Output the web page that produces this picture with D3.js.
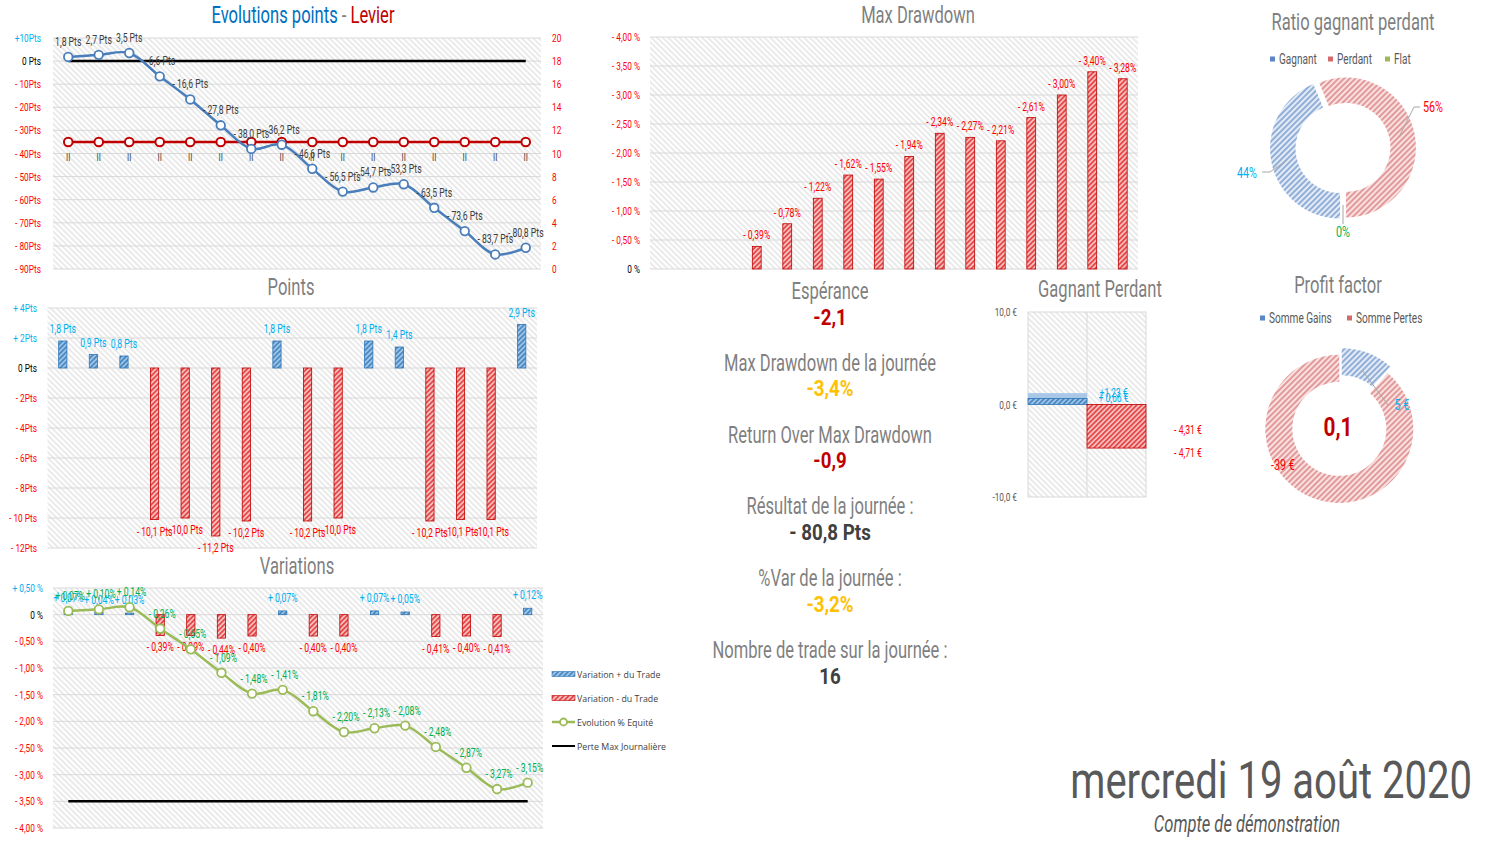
<!DOCTYPE html>
<html>
<head>
<meta charset="utf-8">
<script src="https://cdn.jsdelivr.net/npm/d3@7"></script>
<style>
  body { margin: 0; background: #fff; }
  svg { display: block; }
</style>
</head>
<body>
<script>
// ---- data ----
const trades = [1, 2, 3, 4, 5, 6, 7, 8, 9, 10, 11, 12, 13, 14, 15, 16];
const tradeTick = "II";

const cumulPts = [1.8, 2.7, 3.5, -6.6, -16.6, -27.8, -38.0, -36.2, -46.6, -56.5, -54.7, -53.3, -63.5, -73.6, -83.7, -80.8];
const zeroPts = [0, 0, 0, 0, 0, 0, 0, 0, 0, 0, 0, 0, 0, 0, 0, 0];
const levier = [11, 11, 11, 11, 11, 11, 11, 11, 11, 11, 11, 11, 11, 11, 11, 11];
const ptsTicks = [10, 0, -10, -20, -30, -40, -50, -60, -70, -80, -90];
const ptsTickLabels = ["+10Pts", "0 Pts", "- 10Pts", "- 20Pts", "- 30Pts", "- 40Pts", "- 50Pts", "- 60Pts", "- 70Pts", "- 80Pts", "- 90Pts"];
const levierTicks = [0, 2, 4, 6, 8, 10, 12, 14, 16, 18, 20];

const tradePts = [1.8, 0.9, 0.8, -10.1, -10.0, -11.2, -10.2, 1.8, -10.2, -10.0, 1.8, 1.4, -10.2, -10.1, -10.1, 2.9];
const pointsTicks = [4, 2, 0, -2, -4, -6, -8, -10, -12];
const pointsTickLabels = ["+ 4Pts", "+ 2Pts", "0 Pts", "- 2Pts", "- 4Pts", "- 6Pts", "- 8Pts", "- 10 Pts", "- 12Pts"];

const tradeVar = [0.07, 0.04, 0.03, -0.39, -0.39, -0.44, -0.40, 0.07, -0.40, -0.40, 0.07, 0.05, -0.41, -0.40, -0.41, 0.12];
const equityVar = [0.07, 0.10, 0.14, -0.26, -0.65, -1.09, -1.48, -1.41, -1.81, -2.20, -2.13, -2.08, -2.48, -2.87, -3.27, -3.15];
const perteMax = [-3.5, -3.5, -3.5, -3.5, -3.5, -3.5, -3.5, -3.5, -3.5, -3.5, -3.5, -3.5, -3.5, -3.5, -3.5, -3.5];
const varTicks = [0.5, 0, -0.5, -1, -1.5, -2, -2.5, -3, -3.5, -4];
const varTickLabels = ["+ 0,50 %", "0 %", "- 0,50 %", "- 1,00 %", "- 1,50 %", "- 2,00 %", "- 2,50 %", "- 3,00 %", "- 3,50 %", "- 4,00 %"];
const varLegend = ["Variation + du Trade", "Variation - du Trade", "Evolution % Equité", "Perte Max Journalière"];

const maxDrawdown = [0, 0, 0, -0.39, -0.78, -1.22, -1.62, -1.55, -1.94, -2.34, -2.27, -2.21, -2.61, -3.00, -3.40, -3.28];
const ddTicks = [-4, -3.5, -3, -2.5, -2, -1.5, -1, -0.5, 0];
const ddTickLabels = ["- 4,00 %", "- 3,50 %", "- 3,00 %", "- 2,50 %", "- 2,00 %", "- 1,50 %", "- 1,00 %", "- 0,50 %", "0 %"];

const ratioNames = ["Gagnant", "Perdant", "Flat"];
const ratioCounts = [7, 9, 0];

const gpCategories = ["Gagnant", "Perdant"];
const gpMoyenne = [1.23, -4.31];
const gpMediane = [0.66, -4.71];
const gpTicks = [10, 0, -10];
const gpTickLabels = ["10,0 €", "0,0 €", "-10,0 €"];

const pfNames = ["Somme Gains", "Somme Pertes"];
const pfValues = [5, -39];
const profitFactor = "0,1";

const statNames = ["Espérance", "Max Drawdown de la journée", "Return Over Max Drawdown", "Résultat de la journée :", "%Var de la journée :", "Nombre de trade sur la journée :"];
const statValues = ["-2,1", "-3,4%", "-0,9", "- 80,8 Pts", "-3,2%", "16"];
const statColors = ["#C00000", "#FFC000", "#C00000", "#404040", "#FFC000", "#404040"];

const dateText = "mercredi 19 août 2020";
const compteText = "Compte de démonstration";

// ---- helpers ----
const FONT = "Roboto, 'Liberation Sans', sans-serif";
const CYAN = "#00B0F0", RED = "#FF0000", DARKRED = "#C00000", GREY = "#7F7F7F", GREEN = "#00B050";

const svg = d3.select("body").append("svg").attr("width", 1495).attr("height", 853);
svg.append("rect").attr("width", 1495).attr("height", 853).attr("fill", "#fff");
const defs = svg.append("defs");

function hatch(id, bg, fg, angle, gap, sw) {
  const p = defs.append("pattern").attr("id", id)
    .attr("patternUnits", "userSpaceOnUse")
    .attr("width", gap).attr("height", gap)
    .attr("patternTransform", "rotate(" + angle + ")");
  p.append("rect").attr("width", gap).attr("height", gap).attr("fill", bg);
  p.append("line").attr("x1", gap / 2).attr("y1", 0).attr("x2", gap / 2).attr("y2", gap)
    .attr("stroke", fg).attr("stroke-width", sw);
}
hatch("bgHatch", "#ffffff", "#D6D6D6", -45, 4, 1);
hatch("blueBar", "#9DC3E6", "#2E75B6", 45, 3.5, 1.3);
hatch("redBar", "#F6BDBD", "#E02020", 45, 3.5, 1.3);
hatch("blueDonut", "#E3EBF6", "#5B86C4", 45, 4, 1.2);
hatch("redDonut", "#F9E1E1", "#D46A6A", 45, 4, 1.2);
hatch("greenDonut", "#E6EFD6", "#9BBB59", 45, 4, 1.2);

function txt(g, x, y, s, o) {
  o = o || {};
  const t = g.append("text")
    .attr("transform", "translate(" + x + "," + y + ") scale(" + (o.k || 0.72) + ",1)")
    .attr("text-anchor", o.anchor || "middle")
    .attr("dominant-baseline", o.baseline || "central")
    .attr("font-family", o.family || FONT)
    .attr("font-size", o.size || 12)
    .attr("fill", o.color || "#404040")
    .text(s);
  if (o.weight) t.attr("font-weight", o.weight);
  if (o.style) t.attr("font-style", o.style);
  return t;
}
function tickColor(v) { return v > 0 ? CYAN : (v < 0 ? RED : "#000"); }
const fr = (v, d) => d3.format("." + d + "f")(Math.abs(v)).replace(".", ",");
const ptsLabel = v => (v < 0 ? "- " : "") + fr(v, 1) + " Pts";
const pctLabel = v => (v < 0 ? "- " : "+ ") + fr(v, 2) + "%";

function plotArea(g, x, y) {
  const [x0, x1] = x.range(), [y0, y1] = y.range();
  g.append("rect").attr("x", x0).attr("y", Math.min(y0, y1))
    .attr("width", x1 - x0).attr("height", Math.abs(y0 - y1))
    .attr("fill", "url(#bgHatch)");
}
function grid(g, x, y, ticks) {
  const [x0, x1] = x.range();
  g.selectAll(null).data(ticks).enter().append("line")
    .attr("x1", x0).attr("x2", x1)
    .attr("y1", d => y(d)).attr("y2", d => y(d))
    .attr("stroke", "#D9D9D9").attr("stroke-width", 1);
}
function leftTicks(g, y, ticks, labels, xr, size) {
  ticks.forEach((v, i) => txt(g, xr, y(v), labels[i], { anchor: "end", size: size || 11.5, color: tickColor(v) }));
}

// ================= Evolutions points - Levier =================
const g1 = svg.append("g");
const x1 = d3.scaleBand().domain(trades).range([53, 541]);
const y1 = d3.scaleLinear().domain([-90, 10]).range([269, 38]);
const y1r = d3.scaleLinear().domain([0, 20]).range([269, 38]);
const c1 = d => x1(d) + x1.bandwidth() / 2;
plotArea(g1, x1, y1);
grid(g1, x1, y1, ptsTicks);
leftTicks(g1, y1, ptsTicks, ptsTickLabels, 41);
levierTicks.forEach(v => txt(g1, 552, y1r(v), String(v), { anchor: "start", size: 11.5, color: RED }));

const t1 = g1.append("text").attr("transform", "translate(303,15) scale(0.72,1)")
  .attr("text-anchor", "middle").attr("dominant-baseline", "central")
  .attr("font-family", FONT).attr("font-size", 23);
t1.append("tspan").attr("fill", "#0070C0").text("Evolutions points");
t1.append("tspan").attr("fill", GREY).text(" - ");
t1.append("tspan").attr("fill", DARKRED).text("Levier");

g1.append("path").datum(trades)
  .attr("d", d3.line().x(d => c1(d)).y((d, i) => y1(zeroPts[i])))
  .attr("fill", "none").attr("stroke", "#000").attr("stroke-width", 2.5);

trades.forEach(d => txt(g1, c1(d), y1r(10) + 3, tradeTick, { size: 11, color: "#404040" }));

g1.append("path").datum(trades)
  .attr("d", d3.line().x(d => c1(d)).y((d, i) => y1r(levier[i])))
  .attr("fill", "none").attr("stroke", DARKRED).attr("stroke-width", 2.5);
g1.selectAll(".lev").data(trades).enter().append("circle")
  .attr("cx", d => c1(d)).attr("cy", (d, i) => y1r(levier[i])).attr("r", 4.3)
  .attr("fill", "#fff").attr("stroke", DARKRED).attr("stroke-width", 2);

g1.append("path").datum(trades)
  .attr("d", d3.line().curve(d3.curveCatmullRom.alpha(0.5)).x(d => c1(d)).y((d, i) => y1(cumulPts[i])))
  .attr("fill", "none").attr("stroke", "#4A7EBB").attr("stroke-width", 2.5);
g1.selectAll(".cum").data(trades).enter().append("circle")
  .attr("cx", d => c1(d)).attr("cy", (d, i) => y1(cumulPts[i])).attr("r", 4.3)
  .attr("fill", "#fff").attr("stroke", "#4A7EBB").attr("stroke-width", 1.8);
trades.forEach((d, i) => txt(g1, c1(d), y1(cumulPts[i]) - 15, ptsLabel(cumulPts[i]), { size: 12, color: "#404040" }));

// ================= Points =================
const g2 = svg.append("g");
const x2 = d3.scaleBand().domain(trades).range([47.5, 537]);
const y2 = d3.scaleLinear().domain([-12, 4]).range([548, 308]);
const bw2 = x2.bandwidth() * 0.27;
plotArea(g2, x2, y2);
grid(g2, x2, y2, pointsTicks);
leftTicks(g2, y2, pointsTicks, pointsTickLabels, 37);
txt(g2, 291, 287, "Points", { size: 23, color: GREY });
g2.selectAll(".bar").data(trades).enter().append("rect")
  .attr("x", d => x2(d) + x2.bandwidth() / 2 - bw2 / 2)
  .attr("y", (d, i) => y2(Math.max(0, tradePts[i])))
  .attr("width", bw2)
  .attr("height", (d, i) => Math.abs(y2(tradePts[i]) - y2(0)))
  .attr("fill", (d, i) => tradePts[i] >= 0 ? "url(#blueBar)" : "url(#redBar)")
  .attr("stroke", (d, i) => tradePts[i] >= 0 ? "#2E75B6" : "#C00000").attr("stroke-width", 0.8);
trades.forEach((d, i) => {
  const v = tradePts[i];
  txt(g2, x2(d) + x2.bandwidth() / 2, y2(v) + (v >= 0 ? -12 : 12), ptsLabel(v), { size: 12, color: v >= 0 ? CYAN : RED });
});

// ================= Variations =================
const g3 = svg.append("g");
const x3 = d3.scaleBand().domain(trades).range([53, 543]);
const y3 = d3.scaleLinear().domain([-4, 0.5]).range([828, 588]);
const c3 = d => x3(d) + x3.bandwidth() / 2;
const bw3 = x3.bandwidth() * 0.27;
plotArea(g3, x3, y3);
grid(g3, x3, y3, varTicks);
leftTicks(g3, y3, varTicks, varTickLabels, 43);
txt(g3, 297, 566, "Variations", { size: 23, color: GREY });
g3.selectAll(".bar").data(trades).enter().append("rect")
  .attr("x", d => c3(d) - bw3 / 2)
  .attr("y", (d, i) => y3(Math.max(0, tradeVar[i])))
  .attr("width", bw3)
  .attr("height", (d, i) => Math.abs(y3(tradeVar[i]) - y3(0)))
  .attr("fill", (d, i) => tradeVar[i] >= 0 ? "url(#blueBar)" : "url(#redBar)")
  .attr("stroke", (d, i) => tradeVar[i] >= 0 ? "#2E75B6" : "#C00000").attr("stroke-width", 0.8);
trades.forEach((d, i) => {
  const v = tradeVar[i];
  txt(g3, c3(d), v >= 0 ? y3(v) - 13 : y3(v) + 12, pctLabel(v), { size: 12, color: v >= 0 ? CYAN : RED });
});
g3.append("path").datum(trades)
  .attr("d", d3.line().x(d => c3(d)).y((d, i) => y3(perteMax[i])))
  .attr("fill", "none").attr("stroke", "#000").attr("stroke-width", 2.5);
g3.append("path").datum(trades)
  .attr("d", d3.line().curve(d3.curveCatmullRom.alpha(0.5)).x(d => c3(d)).y((d, i) => y3(equityVar[i])))
  .attr("fill", "none").attr("stroke", "#9BBB59").attr("stroke-width", 2.5);
g3.selectAll(".eq").data(trades).enter().append("circle")
  .attr("cx", d => c3(d)).attr("cy", (d, i) => y3(equityVar[i])).attr("r", 4.3)
  .attr("fill", "#fff").attr("stroke", "#9BBB59").attr("stroke-width", 1.8);
trades.forEach((d, i) => txt(g3, c3(d) + 2, y3(equityVar[i]) - 15, pctLabel(equityVar[i]), { size: 12, color: GREEN }));

// legend
const lg = svg.append("g");
varLegend.forEach((name, i) => {
  const ly = 674 + i * 24;
  if (i < 2) {
    lg.append("rect").attr("x", 552).attr("y", ly - 2.5).attr("width", 23).attr("height", 5)
      .attr("fill", i === 0 ? "url(#blueBar)" : "url(#redBar)")
      .attr("stroke", i === 0 ? "#2E75B6" : "#C00000").attr("stroke-width", 0.6);
  } else if (i === 2) {
    lg.append("line").attr("x1", 552).attr("x2", 575).attr("y1", ly).attr("y2", ly).attr("stroke", "#9BBB59").attr("stroke-width", 2.5);
    lg.append("circle").attr("cx", 563.5).attr("cy", ly).attr("r", 3.5).attr("fill", "#fff").attr("stroke", "#9BBB59").attr("stroke-width", 1.8);
  } else {
    lg.append("line").attr("x1", 552).attr("x2", 575).attr("y1", ly).attr("y2", ly).attr("stroke", "#000").attr("stroke-width", 2);
  }
  txt(lg, 577, ly, name, { anchor: "start", size: 9.5, k: 0.93, family: "'Open Sans', 'Noto Sans', sans-serif", color: "#404040" });
});

// ================= Max Drawdown =================
const g4 = svg.append("g");
const x4 = d3.scaleBand().domain(trades).range([650, 1138]);
const y4 = d3.scaleLinear().domain([0, -4]).range([269, 37]);
const bw4 = x4.bandwidth() * 0.29;
plotArea(g4, x4, y4);
grid(g4, x4, y4, ddTicks);
ddTicks.forEach((v, i) => txt(g4, 640, y4(v), ddTickLabels[i], { anchor: "end", size: 11.5, color: v === 0 ? "#000" : RED }));
txt(g4, 918, 15, "Max Drawdown", { size: 23, color: GREY });
const ddTrades = trades.filter((d, i) => maxDrawdown[i] < 0);
g4.selectAll(".bar").data(ddTrades).enter().append("rect")
  .attr("x", d => x4(d) + x4.bandwidth() / 2 - bw4 / 2)
  .attr("y", d => y4(maxDrawdown[d - 1]))
  .attr("width", bw4)
  .attr("height", d => y4(0) - y4(maxDrawdown[d - 1]))
  .attr("fill", "url(#redBar)").attr("stroke", "#C00000").attr("stroke-width", 0.8);
ddTrades.forEach(d => txt(g4, x4(d) + x4.bandwidth() / 2, y4(maxDrawdown[d - 1]) - 11, pctLabel(maxDrawdown[d - 1]), { size: 12, color: RED }));

// ================= Ratio gagnant perdant =================
const g5 = svg.append("g");
txt(g5, 1353, 22, "Ratio gagnant perdant", { size: 23, color: GREY });
const ratioFill = ["url(#blueDonut)", "url(#redDonut)", "url(#greenDonut)"];
const ratioSw = ["#5B86C4", "#D46A6A", "#9BBB59"];
const ratioLegX = [1270, 1328, 1385];
ratioNames.forEach((n, i) => {
  g5.append("rect").attr("x", ratioLegX[i]).attr("y", 56.5).attr("width", 5).attr("height", 5).attr("fill", ratioSw[i]);
  txt(g5, ratioLegX[i] + 9, 59, n, { anchor: "start", size: 14, color: "#595959" });
});
const rc = [1343, 148];
const ratioPie = d3.pie().sort(null).startAngle(Math.PI).endAngle(3 * Math.PI)(ratioCounts);
const ratioArc = d3.arc().innerRadius(44.5).outerRadius(70);
const total = d3.sum(ratioCounts);
ratioPie.forEach((p, i) => {
  if (p.endAngle - p.startAngle <= 0) return;
  const mid = (p.startAngle + p.endAngle) / 2;
  const ox = 3 * Math.sin(mid), oy = -3 * Math.cos(mid);
  g5.append("path").attr("transform", "translate(" + (rc[0] + ox) + "," + (rc[1] + oy) + ")")
    .attr("d", ratioArc(p)).attr("fill", ratioFill[i]);
});
const ratioLab = [[1247, 173, CYAN], [1433, 107, RED], [1343, 232, GREEN]];
const ratioLead = [[[1287, 160], [1270, 172], [1262, 172]], [[1399, 137], [1414, 107], [1420, 107]], [[1343, 205], [1343, 224]]];
ratioCounts.forEach((c, i) => {
  g5.append("path").attr("d", d3.line()(ratioLead[i])).attr("fill", "none").attr("stroke", "#A6A6A6").attr("stroke-width", 1);
  txt(g5, ratioLab[i][0], ratioLab[i][1], d3.format(".0%")(c / total), { size: 15, color: ratioLab[i][2] });
});

// ================= Stats =================
const g7 = svg.append("g");
statNames.forEach((n, i) => {
  const sy = 291 + i * 71.8;
  txt(g7, 830, sy, n, { size: 23, color: GREY });
  txt(g7, 830, sy + 26, statValues[i], { size: 22, weight: "bold", k: 0.85, color: statColors[i] });
});

// ================= Gagnant Perdant =================
const g6 = svg.append("g");
const x6 = d3.scaleBand().domain(gpCategories).range([1028, 1146]);
const y6 = d3.scaleLinear().domain([-10, 10]).range([497, 312]);
txt(g6, 1100, 289, "Gagnant Perdant", { size: 23, color: GREY });
g6.append("rect").attr("x", 1028).attr("y", 312).attr("width", 118).attr("height", 185)
  .attr("fill", "url(#bgHatch)").attr("stroke", "#D9D9D9");
g6.append("line").attr("x1", x6("Perdant")).attr("x2", x6("Perdant")).attr("y1", 312).attr("y2", 497).attr("stroke", "#D9D9D9");
gpTicks.forEach((v, i) => txt(g6, 1017, y6(v), gpTickLabels[i], { anchor: "end", size: 11.5, color: "#595959" }));
gpCategories.forEach((c, i) => {
  const a = gpMoyenne[i], b = gpMediane[i];
  g6.append("rect").attr("x", x6(c)).attr("width", x6.bandwidth())
    .attr("y", y6(Math.max(0, a))).attr("height", Math.abs(y6(a) - y6(0)))
    .attr("fill", a >= 0 ? "#A9C8E8" : "#F2B8B8");
  g6.append("rect").attr("x", x6(c)).attr("width", x6.bandwidth())
    .attr("y", y6(Math.max(0, b))).attr("height", Math.abs(y6(b) - y6(0)))
    .attr("fill", b >= 0 ? "url(#blueBar)" : "url(#redBar)")
    .attr("stroke", b >= 0 ? "#2E75B6" : "#C00000").attr("stroke-width", 0.8);
});
const gpLx = x6("Perdant") + x6.bandwidth() * 0.45;
txt(g6, gpLx, y6(gpMoyenne[0]), "+" + fr(gpMoyenne[0], 2) + " €", { size: 12, color: CYAN });
txt(g6, gpLx, y6(gpMediane[0]), "+ " + fr(gpMediane[0], 2) + " €", { size: 12, color: CYAN });
txt(g6, 1188, y6(0) + 25, "- " + fr(gpMoyenne[1], 2) + " €", { size: 12, color: RED });
txt(g6, 1188, y6(0) + 48, "- " + fr(gpMediane[1], 2) + " €", { size: 12, color: RED });

// ================= Profit factor =================
const g8 = svg.append("g");
txt(g8, 1338, 285, "Profit factor", { size: 23, color: GREY });
const pfSw = ["#5B86C4", "#D46A6A"];
const pfLegX = [1260, 1347];
pfNames.forEach((n, i) => {
  g8.append("rect").attr("x", pfLegX[i]).attr("y", 315.5).attr("width", 5).attr("height", 5).attr("fill", pfSw[i]);
  txt(g8, pfLegX[i] + 9, 318, n, { anchor: "start", size: 14, color: "#595959" });
});
const pc = [1340, 427];
const pfPie = d3.pie().sort(null)(pfValues.map(Math.abs));
const pfArc = d3.arc().innerRadius(47).outerRadius(74);
pfPie.forEach((p, i) => {
  const mid = (p.startAngle + p.endAngle) / 2;
  const off = i === 0 ? 5 : 2;
  g8.append("path").attr("transform", "translate(" + (pc[0] + off * Math.sin(mid)) + "," + (pc[1] - off * Math.cos(mid)) + ")")
    .attr("d", pfArc(p)).attr("fill", i === 0 ? "url(#blueDonut)" : "url(#redDonut)");
});
g8.append("path").attr("d", d3.line()([[1362, 370], [1388, 405]])).attr("fill", "none").attr("stroke", "#A6A6A6");
txt(g8, 1402, 405, pfValues[0] + " €", { size: 15, color: CYAN });
txt(g8, 1283, 465, pfValues[1] + " €", { size: 15, color: RED });
txt(g8, pc[0] - 2, pc[1], profitFactor, { size: 26, weight: "bold", k: 0.8, color: DARKRED });

// ================= Date =================
txt(svg, 1472, 798, dateText, { anchor: "end", baseline: "alphabetic", size: 52, k: 0.77, color: "#595959" });
txt(svg, 1247, 832, compteText, { baseline: "alphabetic", size: 23, style: "italic", color: "#595959" });
</script>
</body>
</html>
